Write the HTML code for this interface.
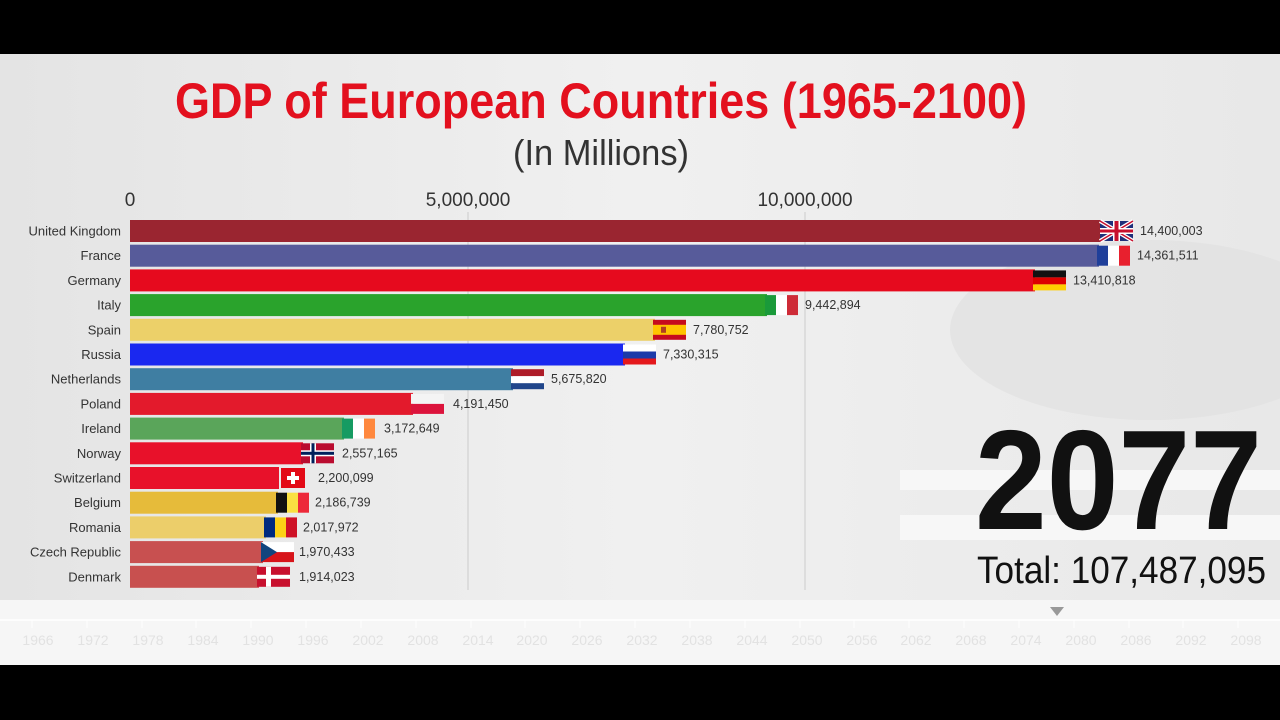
<!DOCTYPE html>
<html><head><meta charset="utf-8"><style>
html,body{margin:0;padding:0;background:#000;}
svg{display:block;}
text{font-family:"Liberation Sans Narrow","Liberation Sans",sans-serif;}
</style></head><body>
<svg width="1280" height="720" viewBox="0 0 1280 720" xmlns="http://www.w3.org/2000/svg">
<defs>
<linearGradient id="bg" x1="0" y1="0" x2="1" y2="0">
<stop offset="0" stop-color="#e4e4e4"/><stop offset="0.5" stop-color="#f0f0f0"/><stop offset="1" stop-color="#e8e8e8"/>
</linearGradient>
</defs>
<rect x="0" y="0" width="1280" height="720" fill="#000"/>
<rect x="0" y="54" width="1280" height="611" fill="url(#bg)"/>
<ellipse cx="1150" cy="330" rx="200" ry="90" fill="#e0e0e0" opacity="0.6"/>
<rect x="0" y="600" width="1280" height="65" fill="#f6f6f6"/>
<rect x="900" y="470" width="380" height="20" fill="#f7f7f7"/>
<rect x="900" y="515" width="380" height="25" fill="#f7f7f7"/>

<text x="175" y="118" textLength="852" lengthAdjust="spacingAndGlyphs" font-size="50" font-weight="bold" fill="#e3101e">GDP of European Countries (1965-2100)</text>
<text x="513" y="165" textLength="176" lengthAdjust="spacingAndGlyphs" font-size="36" fill="#333">(In Millions)</text>

<g font-size="19" fill="#333" text-anchor="middle">
<text x="130" y="206">0</text>
<text x="468" y="206">5,000,000</text>
<text x="805" y="206">10,000,000</text>
</g>
<line x1="468" y1="212" x2="468" y2="590" stroke="#ccc" stroke-width="1"/>
<line x1="805" y1="212" x2="805" y2="590" stroke="#ccc" stroke-width="1"/>

<g>
<rect x="130" y="220" width="972" height="22" fill="#9a2530"/>
<rect x="130" y="244.7" width="969" height="22" fill="#575b9a"/>
<rect x="130" y="269.4" width="905" height="22" fill="#e60a1e"/>
<rect x="130" y="294.1" width="637" height="22" fill="#2aa32c"/>
<rect x="130" y="318.8" width="525" height="22" fill="#ecd069"/>
<rect x="130" y="343.5" width="495" height="22" fill="#1a28f0"/>
<rect x="130" y="368.2" width="383" height="22" fill="#3f7ea2"/>
<rect x="130" y="392.9" width="283" height="22" fill="#e31a2c"/>
<rect x="130" y="417.6" width="214" height="22" fill="#5aa55a"/>
<rect x="130" y="442.3" width="173" height="22" fill="#e8112a"/>
<rect x="130" y="467" width="149" height="22" fill="#e8112a"/>
<rect x="130" y="491.7" width="148" height="22" fill="#e6bb3a"/>
<rect x="130" y="516.4" width="136" height="22" fill="#ecce6a"/>
<rect x="130" y="541.1" width="133" height="22" fill="#c85050"/>
<rect x="130" y="565.8" width="129" height="22" fill="#c8504f"/>
</g>

<g font-size="13" fill="#333" text-anchor="end">
<text x="121" y="235.5">United Kingdom</text>
<text x="121" y="260.2">France</text>
<text x="121" y="284.9">Germany</text>
<text x="121" y="309.6">Italy</text>
<text x="121" y="334.3">Spain</text>
<text x="121" y="359">Russia</text>
<text x="121" y="383.7">Netherlands</text>
<text x="121" y="408.4">Poland</text>
<text x="121" y="433.1">Ireland</text>
<text x="121" y="457.8">Norway</text>
<text x="121" y="482.5">Switzerland</text>
<text x="121" y="507.2">Belgium</text>
<text x="121" y="531.9">Romania</text>
<text x="121" y="556.6">Czech Republic</text>
<text x="121" y="581.3">Denmark</text>
</g>

<g transform="translate(1100,221)">
<rect width="33" height="20" fill="#1f2f7a"/>
<path d="M0 0L33 20M33 0L0 20" stroke="#fff" stroke-width="4"/>
<path d="M0 0L33 20M33 0L0 20" stroke="#c8102e" stroke-width="1.5"/>
<rect x="13" width="7" height="20" fill="#fff"/><rect y="7" width="33" height="6" fill="#fff"/>
<rect x="14.5" width="4" height="20" fill="#c8102e"/><rect y="8.5" width="33" height="3" fill="#c8102e"/>
</g>
<g transform="translate(1097,245.7)"><rect width="11" height="20" fill="#1f3f9a"/><rect x="11" width="11" height="20" fill="#fff"/><rect x="22" width="11" height="20" fill="#e8202e"/></g>
<g transform="translate(1033,270.4)"><rect width="33" height="7" fill="#111"/><rect y="7" width="33" height="7" fill="#dd0000"/><rect y="14" width="33" height="6" fill="#ffce00"/></g>
<g transform="translate(765,295.1)"><rect width="11" height="20" fill="#1a9a3a"/><rect x="11" width="11" height="20" fill="#fff"/><rect x="22" width="11" height="20" fill="#ce2b37"/></g>
<g transform="translate(653,319.8)"><rect width="33" height="20" fill="#c60b1e"/><rect y="5" width="33" height="10" fill="#ffc400"/><rect x="8" y="7" width="5" height="6" fill="#b04020"/></g>
<g transform="translate(623,344.5)"><rect width="33" height="7" fill="#fff"/><rect y="7" width="33" height="7" fill="#1c3aa9"/><rect y="14" width="33" height="6" fill="#e4181c"/></g>
<g transform="translate(511,369.2)"><rect width="33" height="7" fill="#ae1c28"/><rect y="7" width="33" height="7" fill="#fff"/><rect y="14" width="33" height="6" fill="#21468b"/></g>
<g transform="translate(411,393.9)"><rect width="33" height="10" fill="#f4f4f4"/><rect y="10" width="33" height="10" fill="#dc143c"/></g>
<g transform="translate(342,418.6)"><rect width="11" height="20" fill="#169b62"/><rect x="11" width="11" height="20" fill="#fff"/><rect x="22" width="11" height="20" fill="#ff883e"/></g>
<g transform="translate(301,443.3)"><rect width="33" height="20" fill="#ba0c2f"/><rect x="9" width="6" height="20" fill="#fff"/><rect y="7" width="33" height="6" fill="#fff"/><rect x="10.5" width="3" height="20" fill="#00205b"/><rect y="8.5" width="33" height="3" fill="#00205b"/></g>
<g transform="translate(281,468)"><rect width="24" height="20" fill="#e30a17"/><rect x="10" y="4" width="4" height="12" fill="#fff"/><rect x="6" y="8" width="12" height="4" fill="#fff"/></g>
<g transform="translate(276,492.7)"><rect width="11" height="20" fill="#111"/><rect x="11" width="11" height="20" fill="#fae042"/><rect x="22" width="11" height="20" fill="#ed2939"/></g>
<g transform="translate(264,517.4)"><rect width="11" height="20" fill="#002b7f"/><rect x="11" width="11" height="20" fill="#fcd116"/><rect x="22" width="11" height="20" fill="#ce1126"/></g>
<g transform="translate(261,542.1)"><rect width="33" height="10" fill="#fff"/><rect y="10" width="33" height="10" fill="#d7141a"/><path d="M0 0L16 10L0 20Z" fill="#11457e"/></g>
<g transform="translate(257,566.8)"><rect width="33" height="20" fill="#c8102e"/><rect x="9" width="5" height="20" fill="#fff"/><rect y="8" width="33" height="4" fill="#fff"/></g>

<g font-size="12.5" fill="#333">
<text x="1140" y="235">14,400,003</text>
<text x="1137" y="259.7">14,361,511</text>
<text x="1073" y="284.4">13,410,818</text>
<text x="805" y="309.1">9,442,894</text>
<text x="693" y="333.8">7,780,752</text>
<text x="663" y="358.5">7,330,315</text>
<text x="551" y="383.2">5,675,820</text>
<text x="453" y="407.9">4,191,450</text>
<text x="384" y="432.6">3,172,649</text>
<text x="342" y="457.3">2,557,165</text>
<text x="318" y="482">2,200,099</text>
<text x="315" y="506.7">2,186,739</text>
<text x="303" y="531.4">2,017,972</text>
<text x="299" y="556.1">1,970,433</text>
<text x="299" y="580.8">1,914,023</text>
</g>

<text x="975" y="529" textLength="287" lengthAdjust="spacingAndGlyphs" font-size="142" font-weight="bold" fill="#111">2077</text>
<text x="977" y="583" textLength="289" lengthAdjust="spacingAndGlyphs" font-size="38" fill="#111">Total: 107,487,095</text>

<path d="M1050 607L1064 607L1057 616Z" fill="#999"/>
<line x1="0" y1="620" x2="1280" y2="620" stroke="#fff" stroke-width="1.5"/>
<g stroke="#fff" stroke-width="1">
<path d="M32 620v8M87 620v8M142 620v8M196 620v8M251 620v8M306 620v8M361 620v8M416 620v8M471 620v8M525 620v8M580 620v8M635 620v8M690 620v8M745 620v8M800 620v8M854 620v8M909 620v8M964 620v8M1019 620v8M1074 620v8M1129 620v8M1183 620v8M1238 620v8"/>
</g>
<g font-size="14" fill="#e2e2e2" text-anchor="middle">
<text x="38" y="645">1966</text><text x="93" y="645">1972</text><text x="148" y="645">1978</text><text x="203" y="645">1984</text><text x="258" y="645">1990</text><text x="313" y="645">1996</text><text x="368" y="645">2002</text><text x="423" y="645">2008</text><text x="478" y="645">2014</text><text x="532" y="645">2020</text><text x="587" y="645">2026</text><text x="642" y="645">2032</text><text x="697" y="645">2038</text><text x="752" y="645">2044</text><text x="807" y="645">2050</text><text x="862" y="645">2056</text><text x="916" y="645">2062</text><text x="971" y="645">2068</text><text x="1026" y="645">2074</text><text x="1081" y="645">2080</text><text x="1136" y="645">2086</text><text x="1191" y="645">2092</text><text x="1246" y="645">2098</text>
</g>
</svg>
</body></html>
